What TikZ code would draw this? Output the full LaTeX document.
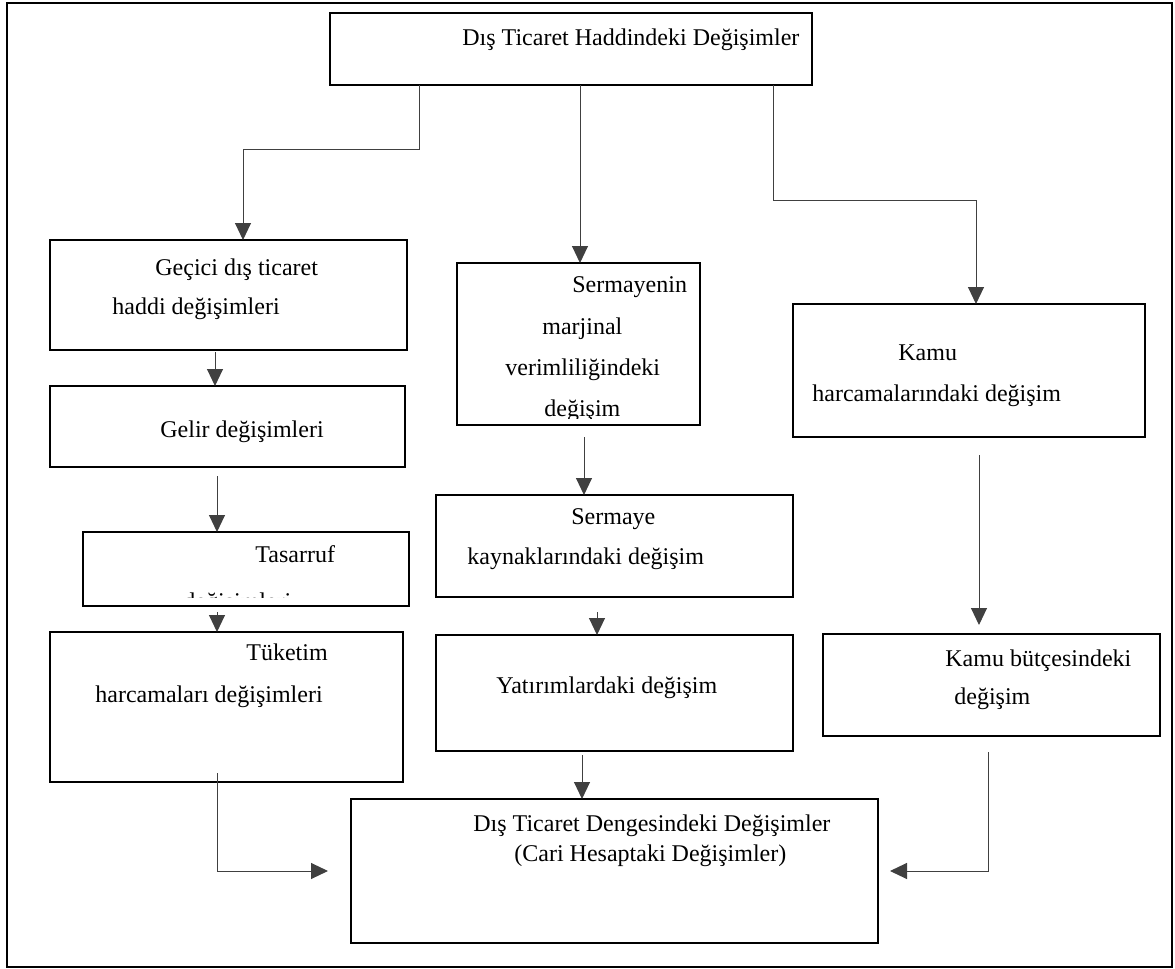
\documentclass[tikz,border=0pt]{standalone}
\usepackage{fontspec}
\setmainfont{Liberation Serif}
\usetikzlibrary{arrows.meta, fit}

\begin{document}
\begin{tikzpicture}
    [
        x = 0.5pt, y = -0.5pt,
        box/.style = {draw, line width = 1pt, inner sep = 0, outer sep = 0, fit = {#1}},
        txt/.style = {anchor = mid west, inner sep = 0, font = \fontsize{12}{14}\selectfont},
        link/.style = {draw = black!75, line width = 0.5pt, -{Triangle[width = 8pt, length = 8.5pt]}}]

    \useasboundingbox (0,0) rectangle (1175,969);
    \node[box = {(7,3) (1172,967)}] (frame) {};

    % boxes
    \node[box = {(330,13) (812,85)}] (top) {};
    \node[box = {(50,240) (407,350)}] (gecici) {};
    \node[box = {(457,263) (700,425)}] (sermayenin) {};
    \node[box = {(793,304) (1145,437)}] (kamuh) {};
    \node[box = {(50,386) (405,467)}] (gelir) {};
    \node[box = {(436,495) (793,597)}] (sermaye) {};
    \node[box = {(83,532) (409,606)}] (tasarruf) {};
    \node[box = {(823,634) (1160,736)}] (kamub) {};
    \node[box = {(50,632) (403,782)}] (tuketim) {};
    \node[box = {(436,635) (793,751)}] (yatirim) {};
    \node[box = {(351,799) (878,943)}] (dis) {};

    % texts
    \node[txt] (top t) at (462,41) {Dış Ticaret Haddindeki Değişimler};
    \node[txt] (gecici t1) at (155,271) {Geçici dış ticaret};
    \node[txt] (gecici t2) at (112,310) {haddi değişimleri};
    \node[txt] (sermayenin t1) at (572,288) {Sermayenin};
    \node[txt] (sermayenin t2) at (542,330) {marjinal};
    \node[txt] (sermayenin t3) at (505,371) {verimliliğindeki};
    \begin{scope}
        \clip (sermayenin.north west) rectangle ([yshift = 3.5pt]sermayenin.south east);
        \node[txt] (sermayenin t4) at (544,412) {değişim};
    \end{scope}
    \node[txt] (kamuh t1) at (898,356) {Kamu};
    \node[txt] (kamuh t2) at (812,397) {harcamalarındaki değişim};
    \node[txt] (gelir t) at (160,433) {Gelir değişimleri};
    \node[txt] (sermaye t1) at (571,520) {Sermaye};
    \node[txt] (sermaye t2) at (467,560) {kaynaklarındaki değişim};
    \node[txt] (tasarruf t1) at (255,558) {Tasarruf};
    \begin{scope}
        \clip (tasarruf.north west) rectangle ([yshift = 4.5pt]tasarruf.south east);
        \node[txt] (tasarruf t2) at (183,605) {değişimleri};
    \end{scope}
    \node[txt] (kamub t1) at (945,662) {Kamu bütçesindeki};
    \node[txt] (kamub t2) at (954,700) {değişim};
    \node[txt] (tuketim t1) at (246,656) {Tüketim};
    \node[txt] (tuketim t2) at (95,698) {harcamaları değişimleri};
    \node[txt] (yatirim t) at (496,689) {Yatırımlardaki değişim};
    \node[txt] (dis t1) at (473,827) {Dış Ticaret Dengesindeki Değişimler};
    \node[txt] (dis t2) at (514,857) {(Cari Hesaptaki Değişimler)};

    % connectors
    \draw[link] (top.south -| 419,0) |- (243,149) -- (gecici.north -| 243,0);
    \draw[link] (top.south -| 580,0) -- (sermayenin.north -| 580,0);
    \draw[link] (top.south -| 773,0) |- (976,200) -- (kamuh.north -| 976,0);
    \draw[link, shorten < = 1pt] (gecici.south -| 215,0) -- (gelir.north -| 215,0);
    \draw[link, shorten < = 4.5pt] (gelir.south -| 217,0) -- (tasarruf.north -| 217,0);
    \draw[link, shorten < = 3pt] (tasarruf.south -| 217,0) -- (tuketim.north -| 217,0);
    \draw[link, shorten < = 6pt] (sermayenin.south -| 584,0) -- (sermaye.north -| 584,0);
    \draw[link, shorten < = 7.5pt] (sermaye.south -| 597,0) -- (yatirim.north -| 597,0);
    \draw[link, shorten < = 2pt] (yatirim.south -| 582,0) -- (dis.north -| 582,0);
    \draw[link, shorten < = 9pt, shorten > = 4.5pt] (kamuh.south -| 979,0) -- (kamub.north -| 979,0);
    \draw[link, shorten < = -4.5pt, shorten > = 11.5pt] (tuketim.south -| 217,0) |- (dis.west |- 0,871);
    \draw[link, shorten < = 8pt, shorten > = 6pt] (kamub.south -| 988,0) |- (dis.east |- 0,871);

\end{tikzpicture}
\end{document}
